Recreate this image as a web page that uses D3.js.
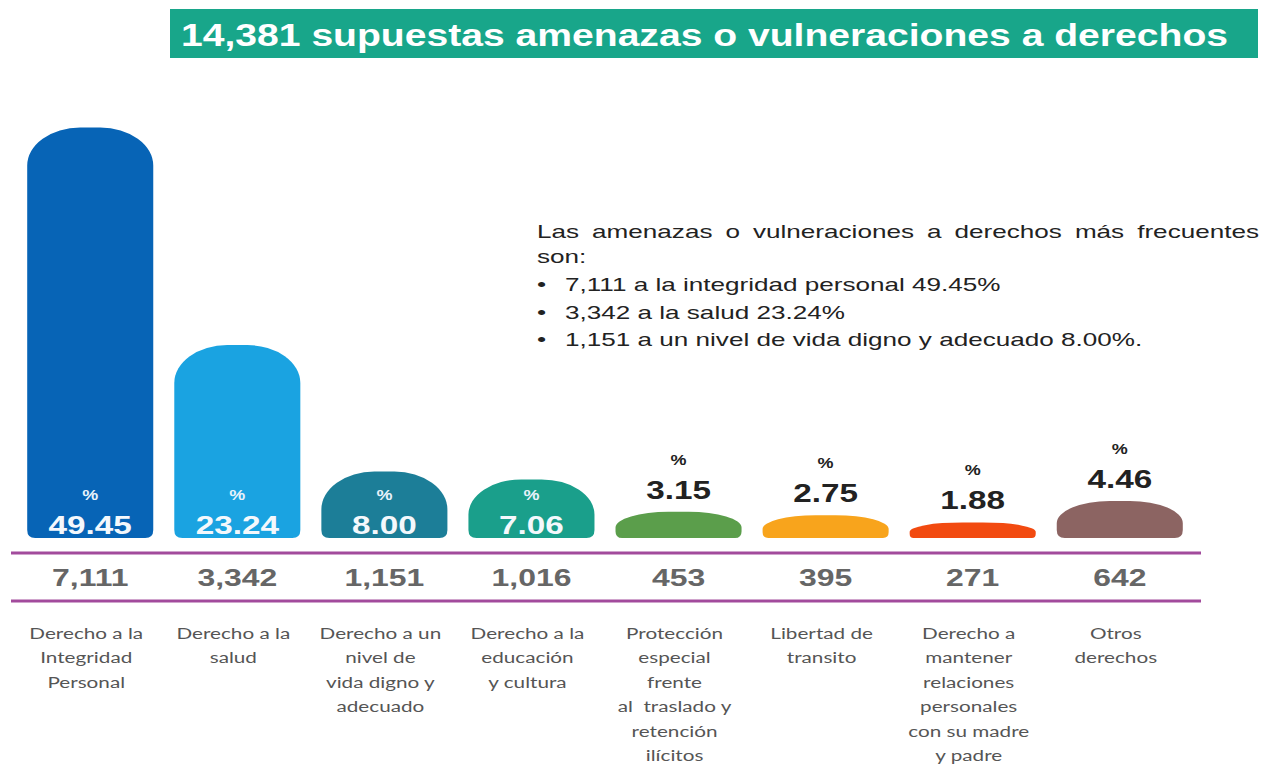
<!DOCTYPE html>
<html>
<head>
<meta charset="utf-8">
<script src="https://cdn.jsdelivr.net/npm/d3@7"></script>
<style>
  body { margin:0; background:#fff; }
  svg { display:block; }
</style>
</head>
<body>
<svg id="chart"></svg>
<script>
var categories = ["Integridad","Salud","Vida digna","Educacion","Proteccion","Libertad","Relaciones","Otros"]
var counts = [7111, 3342, 1151, 1016, 453, 395, 271, 642]
var percents = [49.45, 23.24, 8.00, 7.06, 3.15, 2.75, 1.88, 4.46]
var countLabels = ["7,111","3,342","1,151","1,016","453","395","271","642"]
var percentLabels = ["49.45","23.24","8.00","7.06","3.15","2.75","1.88","4.46"]
var colors = ["#0764b6","#1aa3e1","#1c7e98","#1a9f8b","#5b9e4b","#f8a41c","#f24a10","#8c6462"]
var categoryLabels = [
    ["Derecho a la","Integridad","Personal"],
    ["Derecho a la","salud"],
    ["Derecho a un","nivel de","vida digno y","adecuado"],
    ["Derecho a la","educación","y cultura"],
    ["Protección","especial","frente","al  traslado y","retención","ilícitos"],
    ["Libertad de","transito"],
    ["Derecho a","mantener","relaciones","personales","con su madre","y padre"],
    ["Otros","derechos"]
]
var title = "14,381 supuestas amenazas o vulneraciones a derechos"
var noteLines = ["Las amenazas o vulneraciones a derechos más frecuentes","son:"]
var noteBullets = ["7,111 a la integridad personal 49.45%","3,342 a la salud 23.24%","1,151 a un nivel de vida digno y adecuado 8.00%."]

var screen = {width:1270,height:768}
var svg = d3.select("#chart")
    .attr("width",screen.width)
    .attr("height",screen.height)

var baseY = 538

var xScale = d3.scaleBand()
    .domain(categories)
    .range([10,1200])
    .paddingInner(0.143)
    .paddingOuter(0.117)

var yScale = d3.scaleLinear()
    .domain([0,50])
    .range([baseY,123])

// the source picture is stretched sideways, so the text is too
var stretch = function(x,y,sx)
{
    return "translate("+x+","+y+") scale("+sx+",1)"
}

// rounded "pill" shaped bar
var barPath = function(x0,w,top,bottom)
{
    var x1 = x0 + w
    var h = bottom - top
    var rb = Math.min(8, h*0.25)
    var ry = Math.min(38, h*0.6)
    var rx = w*0.42
    return "M"+x0+","+(bottom-rb)+
        "L"+x0+","+(top+ry)+
        "A"+rx+","+ry+" 0 0 1 "+(x0+rx)+","+top+
        "L"+(x1-rx)+","+top+
        "A"+rx+","+ry+" 0 0 1 "+x1+","+(top+ry)+
        "L"+x1+","+(bottom-rb)+
        "Q"+x1+","+bottom+" "+(x1-rb)+","+bottom+
        "L"+(x0+rb)+","+bottom+
        "Q"+x0+","+bottom+" "+x0+","+(bottom-rb)+"Z"
}

// title banner
svg.append("rect")
    .attr("x",170).attr("y",9)
    .attr("width",1088).attr("height",49)
    .attr("fill","#18a68a")
svg.append("text")
    .text(title)
    .attr("x",181).attr("y",46)
    .attr("fill","#fff")
    .attr("font-family","Liberation Sans, Arial, sans-serif")
    .attr("font-weight","bold")
    .attr("font-size",32)
    .attr("textLength",1047)
    .attr("lengthAdjust","spacingAndGlyphs")

// note text
var noteSX = 1.45
var note = svg.append("g")
    .attr("font-family","Liberation Sans, Arial, sans-serif")
    .attr("font-size",18)
    .attr("fill","#222")
var first = note.append("text")
    .text(noteLines[0])
    .attr("transform",stretch(537,238,noteSX))
var natural = first.node().getComputedTextLength()
var gaps = noteLines[0].split(" ").length - 1
first.attr("word-spacing",(722/noteSX - natural)/gaps)
note.append("text")
    .text(noteLines[1])
    .attr("transform",stretch(537,263,noteSX))
note.selectAll(".bul")
    .data(noteBullets)
    .enter()
    .append("text")
    .attr("class","bul")
    .attr("transform",function(d,i){ return stretch(537,291 + i*27.5,noteSX) })
    .text("•")
note.selectAll(".bt")
    .data(noteBullets)
    .enter()
    .append("text")
    .attr("class","bt")
    .attr("transform",function(d,i){ return stretch(565,291 + i*27.5,noteSX) })
    .text(function(d){ return d })

// bars
var bars = svg.append("g")
bars.selectAll("path")
    .data(percents)
    .enter()
    .append("path")
    .attr("d",function(d,i)
    {
        return barPath(xScale(categories[i]),xScale.bandwidth(),yScale(d),baseY)
    })
    .attr("fill",function(d,i){ return colors[i] })

// percentage labels
var pl = svg.append("g")
    .attr("font-family","Liberation Sans, Arial, sans-serif")
    .attr("font-weight","bold")
    .attr("text-anchor","middle")
percents.forEach(function(d,i)
{
    var cx = xScale(categories[i]) + xScale.bandwidth()/2
    var inside = d > 5
    var top = yScale(d)
    pl.append("text")
        .text("%")
        .attr("transform",stretch(cx,inside ? 500 : top-47,1.2))
        .attr("font-size",15)
        .attr("fill",inside ? "#e8f2fb" : "#222")
    pl.append("text")
        .text(percentLabels[i])
        .attr("transform",stretch(cx,inside ? 534 : top-13,1.28))
        .attr("font-size",26)
        .attr("fill",inside ? "#f4f8fc" : "#222")
})

// purple rules
svg.selectAll(".rule")
    .data([553,601])
    .enter()
    .append("line")
    .attr("class","rule")
    .attr("x1",11).attr("x2",1201)
    .attr("y1",function(d){ return d })
    .attr("y2",function(d){ return d })
    .attr("stroke","#a24b9c")
    .attr("stroke-width",3)

// counts
svg.append("g")
    .selectAll("text")
    .data(counts)
    .enter()
    .append("text")
    .attr("transform",function(d,i)
    {
        return stretch(xScale(categories[i]) + xScale.bandwidth()/2,586,1.33)
    })
    .attr("text-anchor","middle")
    .attr("font-family","Liberation Sans, Arial, sans-serif")
    .attr("font-weight","bold")
    .attr("font-size",24)
    .attr("fill","#666")
    .text(function(d,i){ return countLabels[i] })

// category labels
var cl = svg.append("g")
    .attr("font-family","Lato, Open Sans, sans-serif")
    .attr("font-size",15)
    .attr("fill","#555")
    .attr("text-anchor","middle")
categoryLabels.forEach(function(lines,i)
{
    var t = cl.append("text")
        .attr("transform",stretch(xScale(categories[i]) + xScale.bandwidth()/2 - 4,639,1.38))
        .attr("xml:space","preserve")
    lines.forEach(function(s,j)
    {
        t.append("tspan")
            .attr("x",0)
            .attr("dy",j==0 ? 0 : 24.5)
            .text(s)
    })
})
</script>
</body>
</html>
